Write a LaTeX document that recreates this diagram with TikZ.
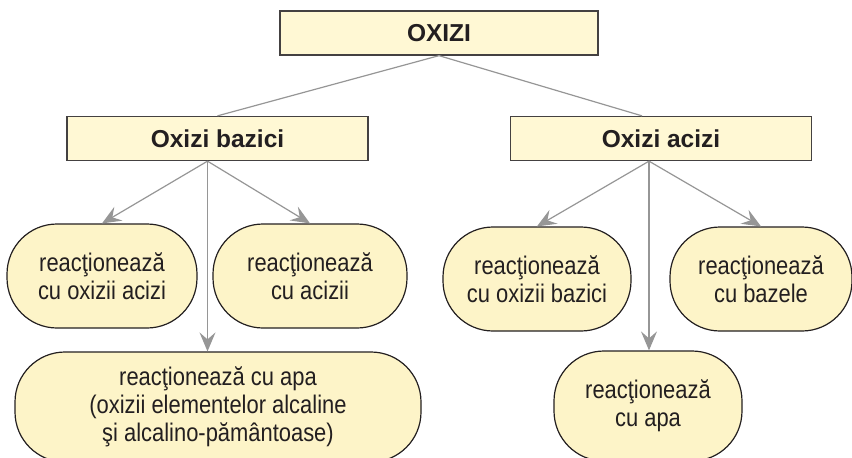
\documentclass[tikz,border=0pt]{standalone}
\usepackage{fontspec}
\setmainfont{Liberation Sans}
\newfontfamily\narrowfont[FakeStretch=0.86]{Liberation Sans}
\usetikzlibrary{positioning, arrows.meta}

\definecolor{boxfill}{RGB}{255,248,212}
\definecolor{ovalfill}{RGB}{253,244,200}
\definecolor{edge}{RGB}{150,150,150}
\definecolor{ink}{RGB}{35,31,32}

\begin{document}
\begin{tikzpicture}[x=1pt, y=-1pt, node distance=105.5pt,
    titlebox/.style={rectangle, draw=ink!85, line width=1.3pt, fill=boxfill, minimum height=44pt, text=ink, font=\fontsize{24.5}{28}\selectfont\bfseries},
    reactbox/.style={rectangle, rounded corners=50pt, draw=ink, line width=1.2pt, fill=ovalfill, minimum height=104pt, align=center, text=ink, font=\narrowfont\fontsize{25.5}{28}\selectfont},
    link/.style={draw=edge, line width=1.2pt},
    arrow/.style={link, -{Stealth[length=19pt, width=16pt, inset=7pt]}}]
    \useasboundingbox (0,0) rectangle (852,458);

    % Top levels
    \node[titlebox, minimum width=318pt] (oxizi) at (439,33) {OXIZI};
    \node[titlebox, minimum width=301pt, below of=oxizi, xshift=-221.5pt] (bazici) {Oxizi bazici};
    \node[titlebox, minimum width=301pt, below of=oxizi, xshift=222pt] (acizi) {Oxizi acizi};

    % Basic oxides
    \node[reactbox, minimum width=190pt, below of=bazici, xshift=-115.5pt, yshift=-32pt] (bz1) {reac\c{t}ionează\\cu oxizii acizi};
    \node[reactbox, minimum width=194pt, below of=bazici, xshift=92.5pt, yshift=-32pt] (bz2) {reac\c{t}ionează\\cu acizii};
    \node[reactbox, minimum width=406pt, minimum height=110pt, below of=bazici, xshift=0.5pt, yshift=-163pt] (bz3) {reac\c{t}ionează cu apa\\(oxizii elementelor alcaline\\şi alcalino-pământoase)};

    % Acidic oxides
    \node[reactbox, minimum width=188pt, below of=acizi, xshift=-124pt, yshift=-35pt] (ac1) {reac\c{t}ionează\\cu oxizii bazici};
    \node[reactbox, minimum width=182pt, below of=acizi, xshift=100pt, yshift=-35pt] (ac2) {reac\c{t}ionează\\cu bazele};
    \node[reactbox, minimum width=188pt, minimum height=110pt, below of=acizi, xshift=-13pt, yshift=-162pt] (ac3) {reac\c{t}ionează\\cu apa};

    % Connections
    \draw[link] (oxizi.south) -- (bazici.north);
    \draw[link] (oxizi.south) -- ([xshift=-19pt]acizi.north);

    \coordinate (bzout) at ([xshift=-10pt]bazici.south);
    \coordinate (acout) at ([xshift=-12pt]acizi.south);
    \draw[arrow] (bzout) -- (bz1.north);
    \draw[arrow] (bzout) -- (bz2.north);
    \draw[arrow] (bzout) -- (bzout |- bz3.north);
    \draw[arrow] (acout) -- (ac1.north);
    \draw[arrow] (acout) -- (ac2.north);
    \draw[arrow] (acout) -- (acout |- ac3.north);
\end{tikzpicture}
\end{document}
